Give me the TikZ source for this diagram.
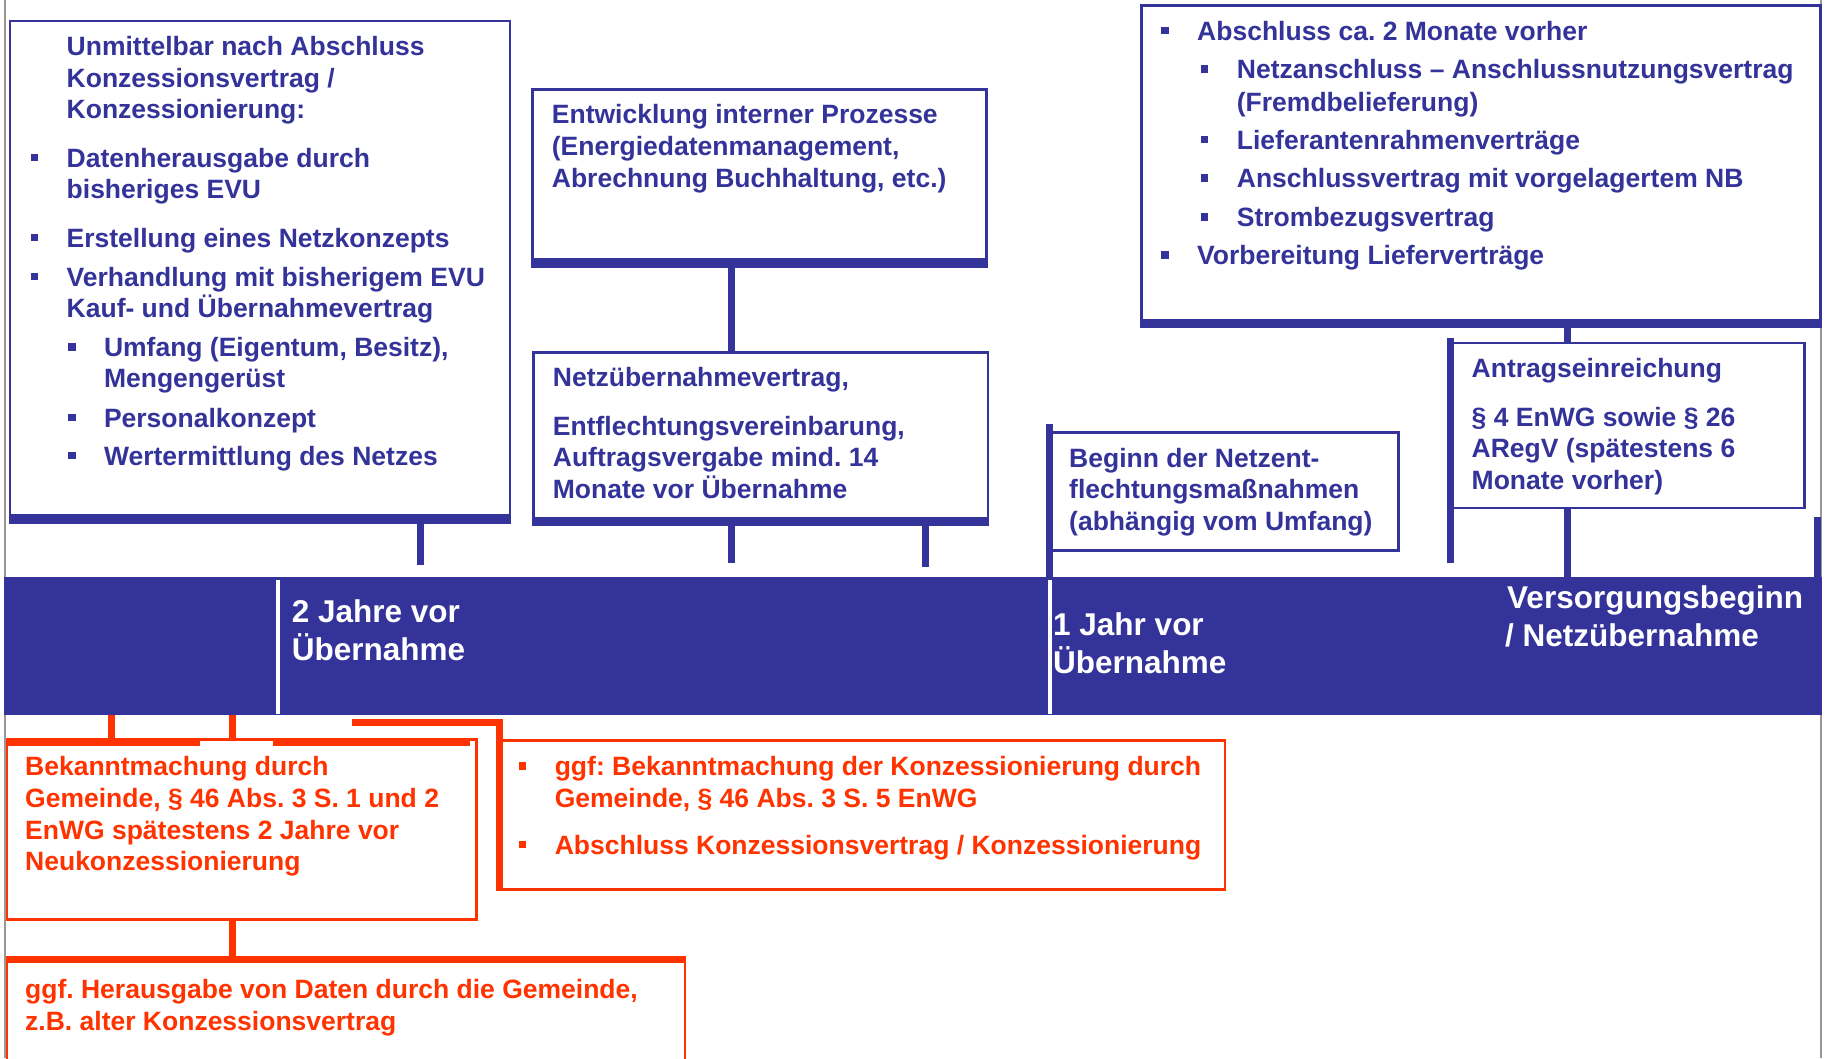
\documentclass[tikz,border=0pt]{standalone}
\usepackage{fontspec}
\setmainfont{Liberation Sans}
\definecolor{bl}{RGB}{51,51,153}
\definecolor{orr}{RGB}{255,51,0}
\definecolor{gr}{RGB}{158,150,150}
\newcommand\bu{\llap{\rule[5.75pt]{7.5pt}{7.5pt}\hspace{28.5pt}}}
\frenchspacing
\begin{document}
\begin{tikzpicture}[x=1pt,y=-1pt,
 bbox/.style={draw=bl, line width=2.5pt, fill=white, inner sep=0pt, anchor=north west},
 obox/.style={draw=orr, line width=2.5pt, fill=white, inner sep=0pt, anchor=north west},
 btxt/.style={text=bl, font=\fontsize{26.5pt}{32pt}\selectfont\bfseries\frenchspacing, anchor=base west, inner sep=0pt},
 otxt/.style={btxt, text=orr},
 wtxt/.style={text=white, font=\fontsize{31.5pt}{38pt}\selectfont\bfseries\frenchspacing, anchor=base west, inner sep=0pt},
 bthick/.style={draw=bl, line width=7pt},
 othick/.style={draw=orr, line width=7.5pt},
 greyline/.style={draw=gr, line width=2.5pt},
 sepline/.style={draw=white, line width=4pt}
]
\useasboundingbox (0,0) rectangle (1829,1058);
\fill[white] (0,0) rectangle (1829,1058);
% grey page borders
\draw[greyline] (5,0) -- (5,1058);
\draw[greyline] (1821,0) -- (1821,1058);

% ---------- boxes ----------
\node[bbox, minimum width=500pt, minimum height=494.4pt] (L) at (8.7,19.6) {};
\node[bbox, minimum width=454pt, minimum height=170pt] (E) at (531,88.3) {};
\node[bbox, minimum width=454.4pt, minimum height=165.7pt] (N) at (532.3,351) {};
\node[bbox, minimum width=679pt, minimum height=314.1pt] (R) at (1140.4,4.4) {};
\node[bbox, minimum width=353pt, minimum height=165.2pt] (A) at (1450,341.5) {};
\node[bbox, minimum width=347.5pt, minimum height=118pt] (B) at (1049.5,431) {};
\node[obox, minimum width=469.5pt, minimum height=180.3pt] (K) at (5.5,738) {};
\node[obox, minimum width=724.3pt, minimum height=149pt] (G) at (499.5,739.3) {};
\node[obox, minimum width=678pt, minimum height=140pt] (D) at (5.5,956) {};

% timeline bar
\node[fill=bl, minimum width=1818.5pt, minimum height=138pt, inner sep=0pt, anchor=north west] (bar) at (3.5,577) {};
\draw[sepline] (278,580) -- (278,714);
\draw[sepline] (1049.7,580) -- (1049.7,714);

% thick box edges
\draw[bthick] ([yshift=-3.5pt]L.south west) -- ([yshift=-3.5pt]L.south east);
\draw[bthick] ([yshift=-3.5pt]E.south west) -- ([yshift=-3.5pt]E.south east);
\draw[bthick] ([yshift=-3.5pt]N.south west) -- ([yshift=-3.5pt]N.south east);
\draw[bthick] ([yshift=-3.5pt]R.south west) -- ([yshift=-3.5pt]R.south east);
\draw[othick] (5.5,742) -- (200,742);
\draw[othick] (273,742) -- (470,742);
\draw[othick] ([yshift=-3.5pt]D.north west) -- ([yshift=-3.5pt]D.north east);

% ---------- blue connectors ----------
\coordinate (Lend) at (420,565);
\draw[bthick] (L.south -| Lend) -- (Lend);
\coordinate (xE) at (731.3,0);
\draw[bthick] (E.south -| xE) -- (N.north -| xE);
\coordinate (n1) at (731.5,563.3);
\coordinate (n2) at (925.5,567.3);
\draw[bthick] (N.south -| n1) -- (n1);
\draw[bthick] (N.south -| n2) -- (n2);
\coordinate (xA) at (1567,0);
\draw[bthick] (R.south -| xA) -- (A.north -| xA);
\draw[bthick] (A.south -| xA) -- (bar.north -| xA);
\coordinate (a1) at (1450,337.8);
\coordinate (a2) at (1450,563);
\draw[bthick] (a1) -- (a2);
\coordinate (b1) at (1049.5,424);
\draw[bthick] (b1) -- (b1 |- bar.north);
\coordinate (r1) at (1817.5,517);
\draw[bthick] (r1) -- (r1 |- bar.north);

% ---------- orange connectors ----------
\coordinate (k1) at (111.7,0);
\coordinate (k2) at (232.7,0);
\draw[othick, line width=6.5pt] (bar.south -| k1) -- (K.north -| k1);
\draw[othick, line width=6.5pt] (bar.south -| k2) -- (K.north -| k2);
\coordinate (g0) at (352,722.5);
\draw[othick] (g0) -| (G.south west);
\draw[othick, line width=6.5pt] (K.south -| k2) -- (D.north -| k2);

% ---------- texts: left box ----------
\node[btxt] (L1) at (66.5,55.4) {Unmittelbar nach Abschluss};
\node[btxt] (L2) at (66.5,87.2) {Konzessionsvertrag /};
\node[btxt] (L3) at (66.5,118.8) {Konzessionierung:};
\node[btxt] (L4) at (66.5,167) {\bu Datenherausgabe durch};
\node[btxt] (L5) at (66.5,198.5) {bisheriges EVU};
\node[btxt] (L6) at (66.5,247) {\bu Erstellung eines Netzkonzepts};
\node[btxt] (L7) at (66.5,286) {\bu Verhandlung mit bisherigem EVU};
\node[btxt] (L8) at (66.5,317.7) {Kauf- und Übernahmevertrag};
\node[btxt] (L9) at (103.8,356.5) {\bu Umfang (Eigentum, Besitz),};
\node[btxt] (L10) at (103.8,387.5) {Mengengerüst};
\node[btxt] (L11) at (103.8,427) {\bu Personalkonzept};
\node[btxt] (L12) at (103.8,465) {\bu Wertermittlung des Netzes};

% Entwicklung
\node[btxt] (E1) at (551.7,123.5) {Entwicklung interner Prozesse};
\node[btxt] (E2) at (551.7,155.5) {(Energiedatenmanagement,};
\node[btxt] (E3) at (551.7,187.5) {Abrechnung Buchhaltung, etc.)};

% Netzuebernahme
\node[btxt] (N1) at (552.7,386.7) {Netzübernahmevertrag,};
\node[btxt] (N2) at (552.7,435) {Entflechtungsvereinbarung,};
\node[btxt] (N3) at (552.7,466.7) {Auftragsvergabe mind. 14};
\node[btxt] (N4) at (552.7,498.3) {Monate vor Übernahme};

% right box
\node[btxt] (R1) at (1197,40) {\bu Abschluss ca. 2 Monate vorher};
\node[btxt] (R2) at (1236.7,78.7) {\bu Netzanschluss – Anschlussnutzungsvertrag};
\node[btxt] (R3) at (1236.7,111) {(Fremdbelieferung)};
\node[btxt] (R4) at (1236.7,149) {\bu Lieferantenrahmenverträge};
\node[btxt] (R5) at (1236.7,187.5) {\bu Anschlussvertrag mit vorgelagertem NB};
\node[btxt] (R6) at (1236.7,226.3) {\bu Strombezugsvertrag};
\node[btxt] (R7) at (1197,264.5) {\bu Vorbereitung Lieferverträge};

% Antrag
\node[btxt] (A1) at (1471.5,377.8) {Antragseinreichung};
\node[btxt] (A2) at (1471.5,426) {§ 4 EnWG sowie § 26};
\node[btxt] (A3) at (1471.5,457.4) {ARegV (spätestens 6};
\node[btxt] (A4) at (1471.5,489) {Monate vorher)};

% Beginn
\node[btxt] (B1) at (1069,467) {Beginn der Netzent-};
\node[btxt] (B2) at (1069,498.5) {flechtungsmaßnahmen};
\node[btxt] (B3) at (1069,530) {(abhängig vom Umfang)};

% bar texts
\node[wtxt] (T1) at (291.6,622) {2 Jahre vor};
\node[wtxt] (T2) at (291.6,660.5) {Übernahme};
\node[wtxt] (T3) at (1053,635) {1 Jahr vor};
\node[wtxt] (T4) at (1053,673.5) {Übernahme};
\node[wtxt] (T5) at (1507,608) {Versorgungsbeginn};
\node[wtxt] (T6) at (1505,646.7) {/ Netzübernahme};

% orange texts
\node[otxt] (K1) at (25,775.5) {Bekanntmachung durch};
\node[otxt] (K2) at (25,807) {Gemeinde, § 46 Abs. 3 S. 1 und 2};
\node[otxt] (K3) at (25,839) {EnWG spätestens 2 Jahre vor};
\node[otxt] (K4) at (25,870.5) {Neukonzessionierung};

\node[otxt] (G1) at (554.6,775.5) {\bu ggf: Bekanntmachung der Konzessionierung durch};
\node[otxt] (G2) at (554.6,807) {Gemeinde, § 46 Abs. 3 S. 5 EnWG};
\node[otxt] (G3) at (554.6,854) {\bu Abschluss Konzessionsvertrag / Konzessionierung};

\node[otxt] (D1) at (25,998.3) {ggf. Herausgabe von Daten durch die Gemeinde,};
\node[otxt] (D2) at (25,1030) {z.B. alter Konzessionsvertrag};
\end{tikzpicture}
\end{document}
